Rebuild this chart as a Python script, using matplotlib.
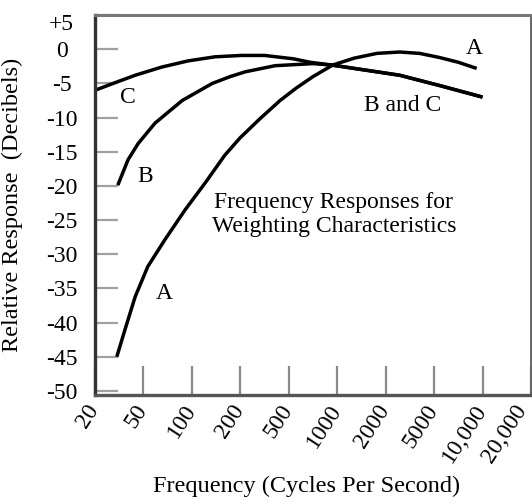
import matplotlib
matplotlib.use("Agg")
import matplotlib.pyplot as plt
from matplotlib.transforms import ScaledTranslation

plt.rcParams['font.family'] = ['Liberation Serif', 'DejaVu Serif']

# frequency tick labels, placed at evenly spaced positions 0..9
freq_labels = ['20', '50', '100', '200', '500', '1000', '2000', '5000', '10,000', '20,000']
db_ticks = [5, 0, -5, -10, -15, -20, -25, -30, -35, -40, -45, -50]
db_labels = ['+5', '0', '-5', '-10', '-15', '-20', '-25', '-30', '-35', '-40', '-45', '-50']

# curves (x in tick-position units, y in dB)
a_x = [0.45, 0.62, 0.83, 1.09, 1.44, 1.86, 2.27, 2.68, 2.99, 3.40, 3.82, 4.15, 4.50, 4.91, 5.35, 5.82, 6.29, 6.70, 7.11, 7.50, 7.88]
a_y = [-45.0, -41.0, -36.2, -31.8, -27.9, -23.5, -19.6, -15.5, -13.0, -10.2, -7.5, -5.7, -4.0, -2.3, -1.3, -0.6, -0.4, -0.6, -1.2, -1.9, -2.8]
b_x = [0.47, 0.68, 0.89, 1.24, 1.80, 2.42, 2.79, 3.10, 3.72, 4.50, 4.88, 5.82, 6.29, 7.11, 8.00]
b_y = [-19.9, -16.2, -13.8, -10.8, -7.5, -5.0, -4.0, -3.3, -2.4, -2.1, -2.3, -3.3, -3.8, -5.3, -7.0]
c_x = [0.00, 0.41, 0.83, 1.38, 1.92, 2.48, 3.03, 3.50, 4.10, 4.44, 4.88, 5.82, 6.29, 7.11, 8.00]
c_y = [-6.0, -4.9, -3.8, -2.6, -1.7, -1.1, -0.9, -0.9, -1.4, -1.9, -2.3, -3.3, -3.8, -5.3, -7.0]

fig = plt.figure(figsize=(5.32, 5.04), dpi=100)
ax = fig.add_axes([0.1786, 0.2163, 0.8194, 0.7537])

for xs, ys in [(a_x, a_y), (b_x, b_y), (c_x, c_y)]:
    ax.plot(xs, ys, color='black', lw=2.5, solid_capstyle='butt', solid_joinstyle='round')

ax.set_xlim(0, 9)
ax.set_ylim(-50.6, 5)

ax.set_xticks(range(len(freq_labels)))
ax.set_xticklabels(freq_labels, rotation=57, ha='right', fontsize=17)
ax.set_yticks(db_ticks)
ax.set_yticklabels(db_labels, ha='center', fontsize=17)

ax.tick_params(axis='x', direction='in', length=21, width=1.6, color='#8a8a8a', pad=4)
ax.tick_params(axis='y', direction='in', length=16.5, width=1.6, color='#a0a0a0', pad=24)

# labels sit a little right of their ticks in the original (the last one hugs the edge)
shift = ScaledTranslation(6 / 72, 0, fig.dpi_scale_trans)
for lab in ax.get_xticklabels()[:-1]:
    lab.set_transform(lab.get_transform() + shift)
top_lab = ax.get_yticklabels()[0]
top_lab.set_transform(top_lab.get_transform() + ScaledTranslation(0, -5 / 72, fig.dpi_scale_trans))

for side, col, lw in [('left', '#333333', 2.4), ('bottom', '#555555', 2.4),
                      ('top', '#777777', 2.2), ('right', '#666666', 1.4)]:
    ax.spines[side].set_color(col)
    ax.spines[side].set_linewidth(lw)

ax.text(7.84, 0.15, 'A', fontsize=17, ha='center', va='center')
ax.text(6.36, -8.3, 'B and C', fontsize=17, ha='center', va='center')
ax.text(0.68, -7.0, 'C', fontsize=17, ha='center', va='center')
ax.text(1.03, -18.6, 'B', fontsize=17, ha='center', va='center')
ax.text(1.42, -35.8, 'A', fontsize=17, ha='center', va='center')
ax.text(4.93, -24.2, 'Frequency Responses for\nWeighting Characteristics',
        fontsize=17, ha='center', va='center', linespacing=1.2)

ax.set_ylabel('Relative Response  (Decibels)', fontsize=17.5)
ax.yaxis.set_label_coords(-0.165, 0.5)
fig.text(0.577, 0.035, 'Frequency (Cycles Per Second)', fontsize=17.5, ha='center', va='center')

fig.savefig('out.png', dpi=100)
